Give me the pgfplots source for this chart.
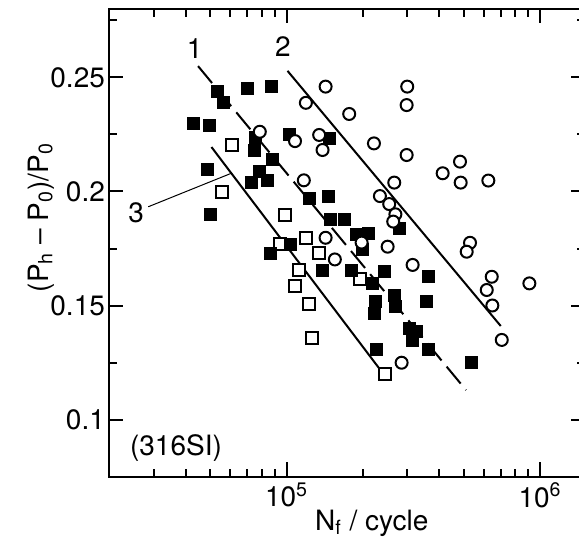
\documentclass[border=0pt]{standalone}
\usepackage{fontspec}
\setmainfont{TeX Gyre Heros}
\usepackage{pgfplots}
\pgfplotsset{compat=1.18}

\newcommand{\lblfont}{\fontsize{14}{16}\selectfont}

% filled squares
\pgfplotstableread{
N y
53420 0.2441
56200 0.2389
69900 0.2450
87500 0.2460
42800 0.2298
49660 0.2289
75170 0.2238
74760 0.2182
102400 0.2252
148200 0.2232
87700 0.2141
78450 0.2090
72460 0.2039
84370 0.2047
48590 0.2099
123600 0.1971
146500 0.1977
148900 0.1876
168400 0.1876
50120 0.1898
104000 0.1768
86470 0.1729
189000 0.1811
210000 0.1818
198300 0.1746
277500 0.1837
138700 0.1656
180600 0.1656
242800 0.1648
362200 0.1626
218600 0.1597
265200 0.1546
223200 0.1517
269300 0.1498
356900 0.1517
221200 0.1466
304800 0.1400
323900 0.1385
314300 0.1346
362200 0.1308
225200 0.1308
537500 0.1249
}\filledsq

% open squares
\pgfplotstableread{
N y
60670 0.2202
55790 0.1997
98200 0.1898
119200 0.1797
94090 0.1768
134400 0.1729
112100 0.1656
108300 0.1586
122700 0.1505
125500 0.1359
194700 0.1616
244400 0.1200
}\opensq

% open circles
\pgfplotstableread{
N y
142600 0.2460
119200 0.2389
176700 0.2340
78450 0.2262
108000 0.2221
134500 0.2248
138700 0.2182
117000 0.2049
142600 0.1797
155100 0.1702
299300 0.2460
297700 0.2379
221200 0.2211
297700 0.2160
483300 0.2131
412900 0.2080
486300 0.2039
625200 0.2048
266000 0.2039
233500 0.1980
254100 0.1945
268800 0.1900
263500 0.1868
197800 0.1776
250500 0.1758
529300 0.1775
513600 0.1736
314300 0.1678
644800 0.1626
616200 0.1568
648400 0.1500
907500 0.1597
706300 0.1349
284400 0.1249
}\circles

\begin{document}
\begin{tikzpicture}
\begin{axis}[
    xmode=log,
    scale only axis,
    width=237.7pt, height=233.7pt,
    xmin=2e4, xmax=1.5e6,
    ymin=0.075, ymax=0.28,
    axis line style={line width=1pt},
    tick style={line width=1pt, black},
    tick align=inside,
    tick pos=both,
    xticklabel pos=lower,
    yticklabel pos=left,
    major tick length=7pt,
    minor tick length=4pt,
    xtick={1e5,1e6},
    xticklabels={10\textsuperscript{5},10\textsuperscript{6}},
    minor xtick={2e4,3e4,4e4,5e4,6e4,7e4,8e4,9e4,2e5,3e5,4e5,5e5,6e5,7e5,8e5,9e5},
    ytick={0.1,0.15,0.2,0.25},
    minor ytick={0.125,0.175,0.225,0.275},
    /pgf/number format/assume math mode=true,
    yticklabel style={/pgf/number format/fixed, /pgf/number format/precision=2, inner xsep=2pt},
    xticklabel style={inner ysep=3pt},
    tick label style={font=\lblfont},
    label style={font=\lblfont},
    xlabel={N\textsubscript{f} / cycle},
    ylabel={(P\textsubscript{h} -- P\textsubscript{0})/P\textsubscript{0}},
    xlabel style={at={(axis description cs:0.552,-0.1145)}, anchor=base},
    ylabel style={at={(axis description cs:-0.1287,0.554)}, anchor=base},
    clip=false,
]
\addplot[only marks, mark=square*, mark size=3pt,
    mark options={fill=white, draw=black, line width=1pt}] table {\opensq};
\addplot[only marks, mark=square*, mark size=3pt,
    mark options={fill=black, draw=black}] table {\filledsq};
\addplot[only marks, mark=*, mark size=3pt,
    mark options={fill=white, draw=black, line width=1pt}] table {\circles};

% fitted lines
\addplot[no marks, line width=1pt, dash pattern=on 11pt off 4pt] coordinates {(44770,0.2550) (510500,0.1129)};
\addplot[no marks, line width=1pt] coordinates {(100900,0.2529) (699800,0.1410)};
\addplot[no marks, line width=1pt] coordinates {(50570,0.2195) (244400,0.1191)};
% leader for label 3
\addplot[no marks, line width=0.5pt] coordinates {(28480,0.1933) (60280,0.2079)};

\node[font=\lblfont] at (axis cs:43450,0.2628) {1};
\node[font=\lblfont] at (axis cs:96700,0.2634) {2};
\node[font=\lblfont] at (axis cs:25530,0.1908) {3};
\node[font=\lblfont, anchor=west, inner sep=0pt] at (axis cs:24060,0.0875) {(316SI)};
\end{axis}
\pgfresetboundingbox
\path[use as bounding box] ([shift={(-54.65pt,-37.75pt)}]current axis.south west)
    rectangle ([shift={(234.85pt,238.25pt)}]current axis.south west);
\end{tikzpicture}
\end{document}
